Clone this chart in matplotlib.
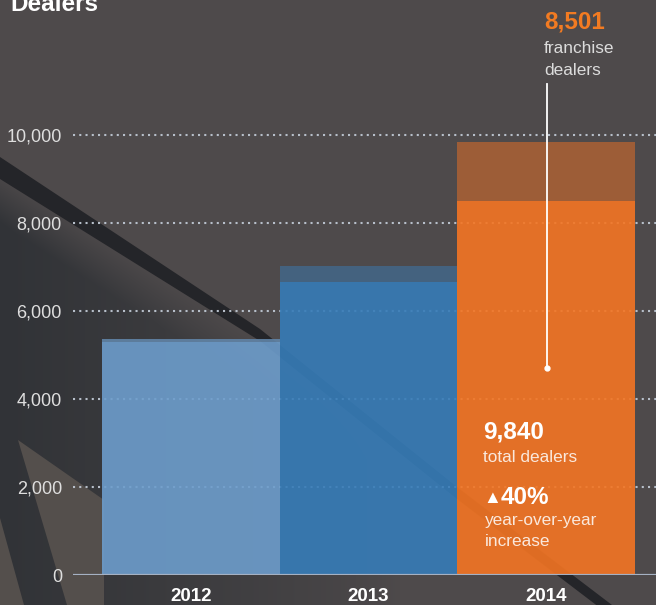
import numpy as np
import matplotlib
matplotlib.use("Agg")
import matplotlib.pyplot as plt
from matplotlib.patches import Polygon
from matplotlib.transforms import blended_transform_factory

plt.rcParams['font.family'] = ['Liberation Sans', 'DejaVu Sans']

# ---- data ----
years = ['2012', '2013', '2014']
total_dealers = [5360, 7020, 9840]
franchise_dealers = [5300, 6650, 8501]
y_ticks = [0, 2000, 4000, 6000, 8000, 10000]
yoy_increase = 40

W, H = 656, 605
fig = plt.figure(figsize=(W / 100, H / 100), dpi=100)

# ---- background: dark slate with a diagonal strap and a shaded lower-left ----
bg = fig.add_axes([0, 0, 1, 1], zorder=0)
bg.set_xlim(0, W)
bg.set_ylim(H, 0)
bg.axis('off')

yy, xx = np.mgrid[0:H, 0:W].astype(float)
base = np.array([78, 74, 75]) / 255.0
dark = np.array([49, 51, 55]) / 255.0
strap_y = 168 + 0.645 * xx
below = np.clip((yy - strap_y) / 55.0, 0, 1)
fade = np.clip(1 - xx / 400.0, 0, 1) ** 0.8
f = (below * fade)[..., None]
img = base * (1 - f) + dark * f
bg.imshow(img, extent=(0, W, H, 0), origin='upper', aspect='auto',
          interpolation='nearest', zorder=0)

light = '#544f4c'
bg.add_patch(Polygon([(18, 440), (104, 500), (104, 605), (67, 605)],
                     closed=True, color=light, lw=0, zorder=1))
bg.add_patch(Polygon([(0, 518), (0, 605), (24, 605)],
                     closed=True, color=light, lw=0, zorder=1))
strap_top = [(0, 157), (260, 329), (457, 487), (612, 605)]
strap_bot = [(612, 617), (457, 499), (260, 341), (0, 179)]
bg.add_patch(Polygon(strap_top + strap_bot, closed=True, color='#242529',
                     lw=0, zorder=2))

# ---- chart axes ----
px_per_bar = 177.67
left_px, axis_px = 73, 575
ax = fig.add_axes([left_px / W, (H - axis_px) / H, (W - left_px) / W, axis_px / H],
                  zorder=1)
ax.set_facecolor('none')
ax.set_xlim(-0.5 - (102 - left_px) / px_per_bar, 2.5 + (W - 635) / px_per_bar)
ax.set_ylim(0, axis_px / 44.05 * 1000)
for s in ax.spines.values():
    s.set_visible(False)

# dotted gridlines (behind the slightly translucent bars)
for v in y_ticks[1:]:
    ax.axhline(v, color='#b7bfca', lw=1.5, ls=(0, (1, 2)), dash_capstyle='butt',
               zorder=1)

main_colors = ['#6d9dcc', '#367cb8', '#f47523']
top_colors = ['#6184a7', '#436585', '#a66035']
x = np.arange(len(years))
extra = [t - fr for t, fr in zip(total_dealers, franchise_dealers)]
ax.bar(x, franchise_dealers, width=1.0, color=main_colors, alpha=0.9, lw=0, zorder=2)
ax.bar(x, extra, bottom=franchise_dealers, width=1.0, color=top_colors,
       alpha=0.9, lw=0, zorder=2)

# baseline
ax.axhline(0, color='#a5b1c3', lw=2.3, zorder=3)

ax.set_xticks([])
ax.set_yticks(y_ticks)
ax.set_yticklabels([f'{v:,}' for v in y_ticks])
ax.tick_params(axis='y', length=0, pad=8, labelsize=13, labelcolor='#dedede')

# year labels under the bars
xt = blended_transform_factory(ax.transData, ax.transAxes)
for i, yr in enumerate(years):
    ax.text(x[i], -(601 - axis_px) / axis_px, yr, transform=xt, ha='center',
            va='baseline', fontsize=13.5, fontweight='bold', color='white',
            clip_on=False)


def ftext(xp, yp, s, **kw):
    fig.text(xp / W, 1 - yp / H, s, va='baseline', **kw)


# title
ftext(10, 11, 'Dealers', fontsize=17.5, fontweight='bold', color='white')

# franchise callout for the latest year
ftext(544, 29, f'{franchise_dealers[-1]:,}', fontsize=17.5, fontweight='bold',
      color='#f27b22')
ftext(544, 53, 'franchise', fontsize=12.4, color='#dcdcdc')
ftext(544, 75, 'dealers', fontsize=12.4, color='#dcdcdc')
leader_top = (axis_px - 84) / 44.05 * 1000
leader_bot = (axis_px - 368) / 44.05 * 1000
ax.plot([x[-1] + 0.006, x[-1] + 0.006], [leader_top, leader_bot], color='white',
        lw=1.3, zorder=4, clip_on=False)
ax.plot([x[-1] + 0.006], [leader_bot], 'o', color='white', ms=3.5, zorder=4)

# totals inside the latest bar
ftext(483, 439, f'{total_dealers[-1]:,}', fontsize=17.5, fontweight='bold',
      color='white')
ftext(483, 462, 'total dealers', fontsize=12.4, color='#fae8dc')
ftext(483, 503, '▲', fontsize=13, color='white')
ftext(501, 504, f'{yoy_increase}%', fontsize=17.5, fontweight='bold', color='white')
ftext(485, 525, 'year-over-year', fontsize=12.4, color='#fae8dc')
ftext(485, 546, 'increase', fontsize=12.4, color='#fae8dc')

fig.savefig('out.png', dpi=100)
